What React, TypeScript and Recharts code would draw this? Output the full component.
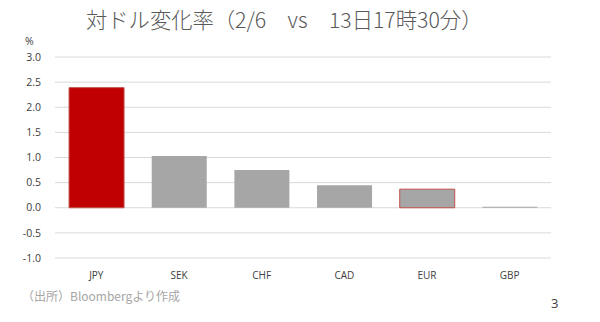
import React from 'react';
import { BarChart, Bar, XAxis, YAxis, CartesianGrid, Cell } from 'recharts';

const currencies = ['JPY', 'SEK', 'CHF', 'CAD', 'EUR', 'GBP'];
const changes = [2.39, 1.03, 0.75, 0.45, 0.37, 0.02];
const yTicks = [-1.0, -0.5, 0.0, 0.5, 1.0, 1.5, 2.0, 2.5, 3.0];

const RED = '#C00000';
const GRAY = '#A6A6A6';
const TEXT = '#595959';
const JP_FONT = '"Noto Sans CJK JP", "Noto Sans", sans-serif';
const TICK_FONT = '"Open Sans", "Liberation Sans", sans-serif';

const chartData = currencies.map((name, i) => ({ name, value: changes[i] }));

export default function App() {
  return (
    <div style={{ position: 'absolute', left: 0, top: 0, width: 600, height: 322, background: '#fff', overflow: 'hidden' }}>
      <div
        style={{
          position: 'absolute',
          left: 86,
          top: 3,
          fontFamily: JP_FONT,
          fontSize: 21.3,
          color: TEXT,
          whiteSpace: 'pre',
          fontWeight: 300,
        }}
      >
        対ドル変化率（2/6　vs　13日17時30分）
      </div>
      <div style={{ position: 'absolute', left: 25, top: 34, fontFamily: TICK_FONT, fontSize: 10.5, color: '#404040' }}>%</div>
      <BarChart
        width={600}
        height={322}
        data={chartData}
        margin={{ top: 57, right: 49, left: 0, bottom: 34 }}
        barCategoryGap="17%"
      >
        <CartesianGrid vertical={false} stroke="#D9D9D9" strokeWidth={1} />
        <XAxis
          dataKey="name"
          axisLine={false}
          tickLine={false}
          height={30}
          tick={{ fill: '#404040', fontSize: 10, fontFamily: TICK_FONT }}
          tickMargin={8}
        />
        <YAxis
          type="number"
          domain={[-1, 3]}
          ticks={yTicks}
          width={55}
          axisLine={false}
          tickLine={false}
          tickFormatter={(v: number) => v.toFixed(1)}
          tick={{ fill: '#404040', fontSize: 10.5, fontFamily: TICK_FONT }}
          tickMargin={8}
        />
        <Bar dataKey="value" isAnimationActive={false}>
          {chartData.map((entry, index) => (
            <Cell
              key={`cell-${index}`}
              fill={entry.name === 'JPY' ? RED : GRAY}
              stroke={entry.name === 'JPY' || entry.name === 'EUR' ? '#C0504D' : 'none'}
              strokeWidth={1}
            />
          ))}
        </Bar>
      </BarChart>
      <div style={{ position: 'absolute', left: 22, top: 287, fontFamily: JP_FONT, fontSize: 12, color: '#A6A6A6', whiteSpace: 'pre' }}>
        （出所）Bloombergより作成
      </div>
      <div style={{ position: 'absolute', left: 551, top: 294, fontFamily: TICK_FONT, fontSize: 13, color: '#404040' }}>3</div>
    </div>
  );
}
